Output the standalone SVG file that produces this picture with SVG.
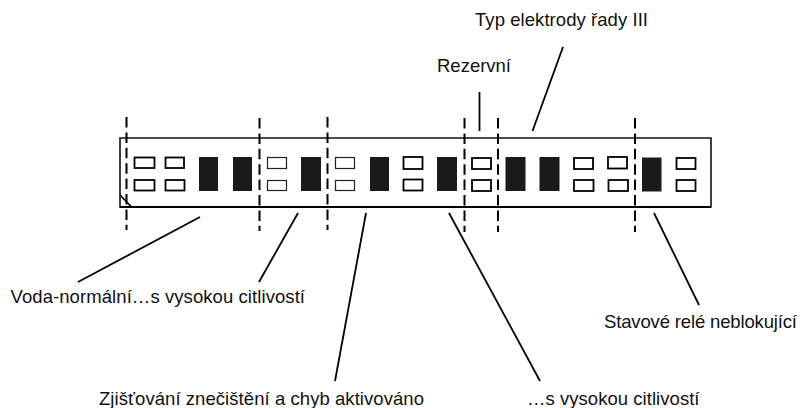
<svg xmlns="http://www.w3.org/2000/svg" width="805" height="408" viewBox="0 0 805 408">
<style>
text{font-family:"Liberation Sans",Arial,sans-serif;font-size:18.5px;fill:#111}
.b{fill:#fff;stroke:#000;stroke-width:1.8}
.t{fill:#fff;stroke:#222;stroke-width:1.2}
.k{fill:#1a1a1a}
.l{stroke:#000;stroke-width:1.8;fill:none}
.d{stroke:#000;stroke-width:2;fill:none;stroke-dasharray:10.500 4.900}
</style>
<rect width="805" height="408" fill="#fff"/>
<g id="panel">
<path d="M120 138H711V207H120Z" fill="#fff" stroke="#111" stroke-width="1.6"/>
<path d="M120 207H711" stroke="#000" stroke-width="2"/>
<path d="M120 195L131 206.500" class="l"/>
</g>
<g id="switches">
<rect class="b" x="134.500" y="157.500" width="20" height="10.500"/><rect class="b" x="134.500" y="180" width="20" height="10.500"/>
<rect class="b" x="165.500" y="157.500" width="18.500" height="10.500"/><rect class="b" x="165.500" y="180" width="19" height="10.500"/>
<rect class="k" x="199" y="157" width="19" height="34"/><rect class="k" x="233" y="157" width="19" height="34"/>
<rect class="t" x="267.500" y="157.500" width="19" height="11"/><rect class="t" x="267.500" y="180.500" width="19" height="10"/>
<rect class="k" x="301" y="157" width="20" height="34"/>
<rect class="t" x="335.500" y="157.500" width="19" height="11"/><rect class="t" x="335.500" y="180.500" width="19" height="10"/>
<rect class="k" x="370" y="157" width="19" height="34"/>
<rect class="b" x="403.500" y="157" width="19" height="12"/><rect class="b" x="403.500" y="179.500" width="19" height="11"/>
<rect class="k" x="437" y="157" width="20" height="34"/>
<rect class="b" x="472" y="158" width="19" height="11"/><rect class="b" x="472" y="180" width="19" height="11"/>
<rect class="k" x="505.500" y="157" width="20" height="34"/><rect class="k" x="539.500" y="157" width="20" height="34"/>
<rect class="b" x="574" y="158" width="19" height="11"/><rect class="b" x="574" y="180" width="19.500" height="11"/>
<rect class="b" x="608" y="157" width="19" height="11.500"/><rect class="b" x="608.500" y="180" width="19.500" height="11"/>
<rect class="k" x="642" y="157.500" width="19.500" height="34"/>
<rect class="b" x="676.500" y="158" width="19" height="11"/><rect class="b" x="676.500" y="180" width="19" height="11"/>
</g>
<g id="connectors">
<path class="d" d="M126.500 117V230"/><path class="d" d="M259.500 118V231"/><path class="d" d="M327.500 117V230"/>
<path class="d" d="M464.500 118V232"/><path class="d" d="M498 118V232"/><path class="d" d="M635 118V232"/>
<path class="l" d="M200 217L78 282"/><path class="l" d="M298 213L259 282"/><path class="l" d="M366 213L335 381"/>
<path class="l" d="M449 213L540 381"/><path class="l" d="M654 213L699 305"/>
<path class="l" d="M479.500 92V131"/><path class="l" d="M563 47L532.500 131"/>
</g>
<g id="labels">
<text x="437" y="72" textLength="74">Rezervní</text>
<text x="475" y="26" textLength="173">Typ elektrody řady III</text>
<text x="10.500" y="303" textLength="294.500">Voda-normální…s vysokou citlivostí</text>
<text x="604" y="328" textLength="193">Stavové relé neblokující</text>
<text x="99" y="405" textLength="325">Zjišťování znečištění a chyb aktivováno</text>
<text x="527" y="405" textLength="172.500">…s vysokou citlivostí</text>
</g>
</svg>
